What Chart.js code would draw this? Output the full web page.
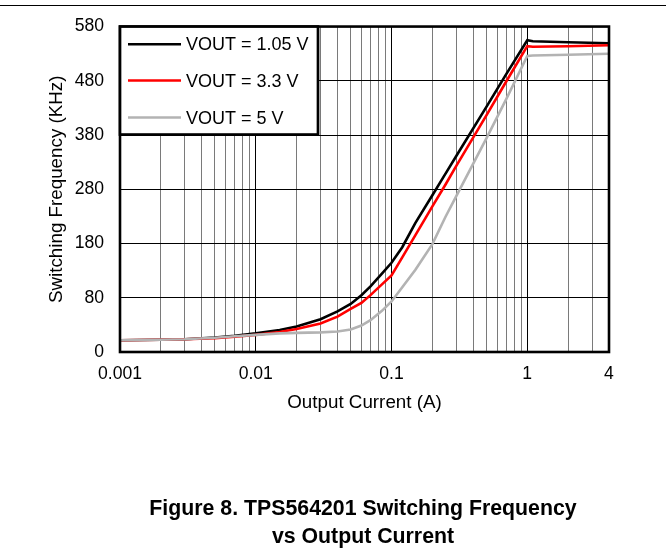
<!DOCTYPE html>
<html><head><meta charset="utf-8">
<script src="https://cdn.jsdelivr.net/npm/chart.js@4.4.0/dist/chart.umd.min.js"></script>
<style>
html,body{margin:0;padding:0;background:#fff;}
#wrap{position:relative;width:666px;height:554px;overflow:hidden;}
canvas{position:absolute;left:0;top:0;}
#rule{position:absolute;left:0;top:5px;width:666px;height:1px;background:#000;}
#cap{position:absolute;left:0;width:726px;top:494px;text-align:center;font:bold 21.3px "Liberation Sans",Arial,sans-serif;line-height:28px;color:#000;}
</style></head>
<body>
<div id="wrap">
<canvas id="c" width="666" height="554"></canvas>
<div id="rule"></div>
<div id="cap">Figure 8. TPS564201 Switching Frequency<br>vs Output Current</div>
</div>
<script>
const currents = [0.001,0.002,0.003,0.005,0.007,0.01,0.015,0.02,0.03,0.04,0.05,0.06,0.07,0.085,0.1,0.12,0.15,0.2,0.25,0.3,0.5,0.7,1,1.1,2,4];
const vout105 = [1.7,2.6,3.5,6.6,9.8,14.3,20.7,27,40.5,55,68.6,84.8,101,124.7,144.5,173.2,218.2,269,308.9,341.4,431.8,492.3,554.7,552.9,551.1,549.3];
const vout33  = [1.7,2.6,3.5,5.3,8,11.6,17,22.5,32.4,45.1,59.5,70.4,84.8,104.7,121,154.6,195.6,248.4,288.8,323,416.2,478.7,543.8,542.9,543.8,545.6];
const vout5   = [1.7,2.6,3.5,6.2,8.9,11.6,14.3,15.2,16.1,17.9,21.6,28.8,38.7,55.9,73.1,99.3,131.8,178.8,229.4,267.3,374,446.3,525.8,526.7,528,530];
const seriesLabels = ['VOUT = 1.05 V','VOUT = 3.3 V','VOUT = 5 V'];
const seriesColors = ['#000000','#ff0000','#b3b3b3'];
const xTickValues = [0.001,0.01,0.1,1,4];
const xTickLabels = ['0.001','0.01','0.1','1','4'];
const yTickValues = [-20,80,180,280,380,480,580];
const yTickLabels = ['0','80','180','280','380','480','580'];

const near = (a,b) => Math.abs(a-b) <= Math.abs(b)*1e-6;
const isDecade = v => near(Math.log10(v), Math.round(Math.log10(v)));

function pts(vals){ return currents.map((x,i)=>({x:x,y:vals[i]})); }

Chart.defaults.font.family = '"Liberation Sans", Arial, sans-serif';
Chart.defaults.font.size = 17.6;
Chart.defaults.color = '#000';

const frame = {
  id:'frame',
  afterDraw(chart){
    const {ctx, chartArea:a} = chart;
    ctx.save();
    ctx.strokeStyle = '#000';
    ctx.lineWidth = 2.6;
    ctx.strokeRect(a.left, a.top, a.right-a.left, a.bottom-a.top);
    // legend box
    const lx = a.left, ly = a.top, lw = 198, lh = 108;
    ctx.fillStyle = '#fff';
    ctx.fillRect(lx, ly, lw, lh);
    ctx.lineWidth = 2.7;
    ctx.strokeRect(lx, ly, lw, lh);
    ctx.font = '18px "Liberation Sans", Arial, sans-serif';
    ctx.textBaseline = 'middle';
    ctx.textAlign = 'left';
    const rows = [17.7, 54, 91];
    seriesLabels.forEach((lab,i)=>{
      const y = ly + rows[i];
      ctx.strokeStyle = seriesColors[i];
      ctx.lineWidth = 2.6;
      ctx.beginPath(); ctx.moveTo(lx+8, y); ctx.lineTo(lx+61, y); ctx.stroke();
      ctx.fillStyle = '#000';
      ctx.fillText(lab, lx+66, y+1);
    });
    ctx.restore();
  }
};

const data = [vout105, vout33, vout5];
new Chart(document.getElementById('c'), {
  type:'line',
  data:{ datasets: data.map((v,i)=>({
    label: seriesLabels[i],
    data: pts(v),
    borderColor: seriesColors[i],
    borderWidth: 2.6,
    pointRadius: 0,
    tension: 0,
    fill: false,
    order: 3-i
  }))},
  options:{
    responsive:false,
    animation:false,
    layout:{ padding:{ left:0, top:20, right:57, bottom:140 } },
    plugins:{ legend:{display:false}, tooltip:{enabled:false} },
    scales:{
      x:{
        type:'logarithmic',
        min:0.001, max:4,
        afterBuildTicks(scale){
          const t = [];
          [0.001,0.01,0.1,1].forEach(d=>{ for(let m=1;m<=9;m++){ const v=m*d; if(v<=4.0000001) t.push({value:v}); }});
          scale.ticks = t;
        },
        afterFit(scale){ scale.height = 62; },
        ticks:{
          autoSkip:false, maxRotation:0, padding:12,
          callback(v){ const k = xTickValues.findIndex(t=>near(v,t)); return k>=0 ? xTickLabels[k] : ''; }
        },
        grid:{
          drawTicks:false,
          lineWidth:1,
          color(ctx){ return ctx.tick && isDecade(ctx.tick.value) ? '#000' : '#7a7a7a'; }
        },
        border:{display:false},
        title:{ display:true, text:'Output Current (A)', font:{size:18.8}, padding:{top:0,bottom:0} }
      },
      y:{
        type:'linear',
        min:-20, max:580,
        afterBuildTicks(scale){ scale.ticks = yTickValues.map(v=>({value:v})); },
        afterFit(scale){ scale.width = 120; },
        ticks:{ padding:16, autoSkip:false, callback(v){ const k = yTickValues.indexOf(v); return k>=0 ? yTickLabels[k] : ''; } },
        grid:{ drawTicks:false, lineWidth:1, color:'#000' },
        border:{display:false},
        title:{ display:true, text:'Switching Frequency (KHz)', font:{size:18.8}, padding:{top:46,bottom:0} }
      }
    }
  },
  plugins:[frame]
});
</script>
</body></html>
